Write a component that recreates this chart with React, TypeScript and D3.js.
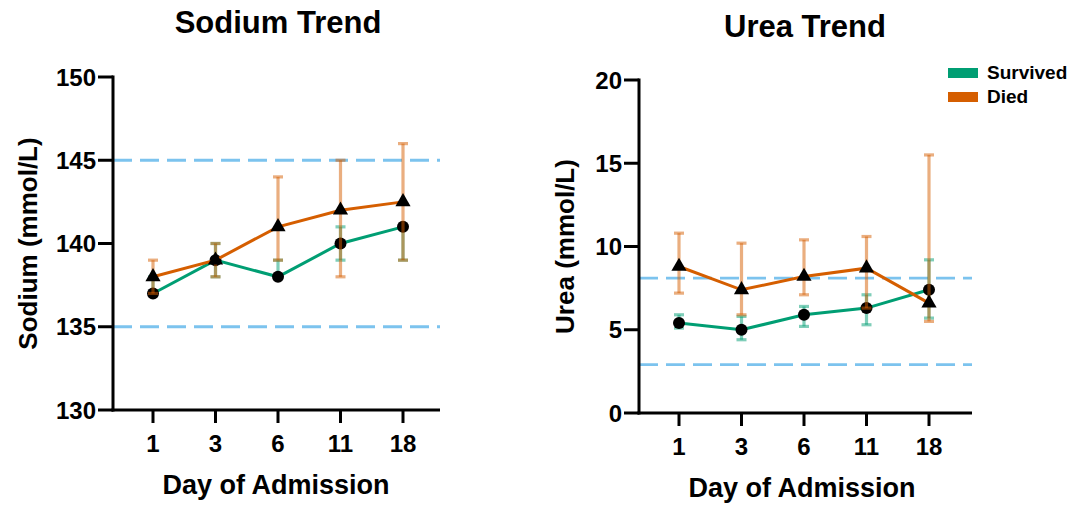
import React from "react";
import * as d3 from "d3";

const days = ["1", "3", "6", "11", "18"];

const sodiumSurvived = [137, 139, 138, 140, 141];
const sodiumSurvivedLow = [137, 138, 138, 139, 139];
const sodiumSurvivedHigh = [138, 140, 139, 141, 141];
const sodiumDied = [138, 139, 141, 142, 142.5];
const sodiumDiedLow = [137, 138, 139, 138, 139];
const sodiumDiedHigh = [139, 140, 144, 145, 146];
const sodiumTicks = [130, 135, 140, 145, 150];
const sodiumRefs = [135, 145];

const ureaSurvived = [5.4, 5.0, 5.9, 6.3, 7.4];
const ureaSurvivedLow = [5.1, 4.4, 5.2, 5.3, 5.7];
const ureaSurvivedHigh = [5.9, 5.8, 6.4, 7.1, 9.2];
const ureaDied = [8.8, 7.4, 8.2, 8.7, 6.6];
const ureaDiedLow = [7.2, 5.9, 7.1, 6.3, 5.5];
const ureaDiedHigh = [10.8, 10.2, 10.4, 10.6, 15.5];
const ureaTicks = [0, 5, 10, 15, 20];
const ureaRefs = [2.9, 8.1];

const GREEN = "#009E73";
const ORANGE = "#D55E00";
const REF = "#7CC3EE";
const FONT = "'Liberation Sans', Arial, sans-serif";

type Series = {
  values: number[];
  low: number[];
  high: number[];
  color: string;
  shape: "circle" | "triangle";
};

type PanelProps = {
  left: number;
  top: number;
  bottom: number;
  width: number;
  title: string;
  titleX: number;
  titleY: number;
  yLabel: string;
  yLabelX: number;
  domain: [number, number];
  ticks: number[];
  refs: number[];
  series: Series[];
};

function Panel(p: PanelProps) {
  const x = d3
    .scalePoint<string>()
    .domain(days)
    .range([p.left + 40, p.left + 290]);
  const y = d3.scaleLinear().domain(p.domain).range([p.bottom, p.top]);
  const cx = p.left + 165;
  const cy = (p.top + p.bottom) / 2;
  const tri = d3.symbol().type(d3.symbolTriangle).size(100)()!;

  return (
    <g fontFamily={FONT} fontWeight="bold" fill="#000">
      <text x={p.titleX} y={p.titleY} textAnchor="middle" fontSize={31}>
        {p.title}
      </text>

      {p.refs.map((r) => (
        <line
          key={r}
          x1={p.left}
          x2={p.left + p.width}
          y1={y(r)}
          y2={y(r)}
          stroke={REF}
          strokeWidth={2.8}
          strokeDasharray="19 8"
        />
      ))}

      {p.series.map((s, si) => {
        const line = d3
          .line<number>()
          .x((_, i) => x(days[i])!)
          .y((v) => y(v));
        return (
          <g key={si}>
            {days.map((d, i) => (
              <g key={d} stroke={s.color} strokeOpacity={0.5} strokeWidth={3.2}>
                <line x1={x(d)} x2={x(d)} y1={y(s.low[i])} y2={y(s.high[i])} />
                <line x1={x(d)! - 5} x2={x(d)! + 5} y1={y(s.low[i])} y2={y(s.low[i])} />
                <line x1={x(d)! - 5} x2={x(d)! + 5} y1={y(s.high[i])} y2={y(s.high[i])} />
              </g>
            ))}
            <path d={line(s.values)!} fill="none" stroke={s.color} strokeWidth={3} />
            {s.values.map((v, i) =>
              s.shape === "circle" ? (
                <circle key={i} cx={x(days[i])} cy={y(v)} r={6} fill="#000" />
              ) : (
                <path
                  key={i}
                  d={tri}
                  transform={`translate(${x(days[i])},${y(v)})`}
                  fill="#000"
                />
              )
            )}
          </g>
        );
      })}

      {/* y axis */}
      <line x1={p.left} x2={p.left} y1={p.top - 1.5} y2={p.bottom + 1.5} stroke="#000" strokeWidth={3} />
      {p.ticks.map((t) => (
        <g key={t}>
          <line x1={p.left - 15} x2={p.left} y1={y(t)} y2={y(t)} stroke="#000" strokeWidth={3} />
          <text x={p.left - 17} y={y(t)} dy="0.36em" textAnchor="end" fontSize={24}>
            {t}
          </text>
        </g>
      ))}
      <text
        transform={`translate(${p.yLabelX},${cy}) rotate(-90)`}
        textAnchor="middle"
        fontSize={26}
      >
        {p.yLabel}
      </text>

      {/* x axis */}
      <line x1={p.left - 1.5} x2={p.left + p.width} y1={p.bottom} y2={p.bottom} stroke="#000" strokeWidth={3} />
      {days.map((d) => (
        <g key={d}>
          <line x1={x(d)} x2={x(d)} y1={p.bottom} y2={p.bottom + 13} stroke="#000" strokeWidth={3} />
          <text x={x(d)} y={p.bottom + 42} textAnchor="middle" fontSize={24}>
            {d}
          </text>
        </g>
      ))}
      <text x={cx - 2} y={p.bottom + 84} textAnchor="middle" fontSize={27}>
        Day of Admission
      </text>
    </g>
  );
}

export default function App() {
  return (
    <svg
      width={1073}
      height={506}
      style={{ position: "absolute", left: 0, top: 0, background: "#fff" }}
    >
      <Panel
        left={113}
        top={77}
        bottom={410}
        width={327}
        title="Sodium Trend"
        titleX={278}
        titleY={33}
        yLabel="Sodium (mmol/L)"
        yLabelX={37}
        domain={[130, 150]}
        ticks={sodiumTicks}
        refs={sodiumRefs}
        series={[
          { values: sodiumSurvived, low: sodiumSurvivedLow, high: sodiumSurvivedHigh, color: GREEN, shape: "circle" },
          { values: sodiumDied, low: sodiumDiedLow, high: sodiumDiedHigh, color: ORANGE, shape: "triangle" },
        ]}
      />
      <Panel
        left={639}
        top={80}
        bottom={413}
        width={333}
        title="Urea Trend"
        titleX={805}
        titleY={37}
        yLabel="Urea (mmol/L)"
        yLabelX={574}
        domain={[0, 20]}
        ticks={ureaTicks}
        refs={ureaRefs}
        series={[
          { values: ureaSurvived, low: ureaSurvivedLow, high: ureaSurvivedHigh, color: GREEN, shape: "circle" },
          { values: ureaDied, low: ureaDiedLow, high: ureaDiedHigh, color: ORANGE, shape: "triangle" },
        ]}
      />
      <g fontFamily={FONT} fontWeight="bold" fontSize={19}>
        <rect x={948} y={68} width={30} height={10} fill={GREEN} />
        <text x={987} y={79}>Survived</text>
        <rect x={948} y={92} width={30} height={10} fill={ORANGE} />
        <text x={987} y={103}>Died</text>
      </g>
    </svg>
  );
}
